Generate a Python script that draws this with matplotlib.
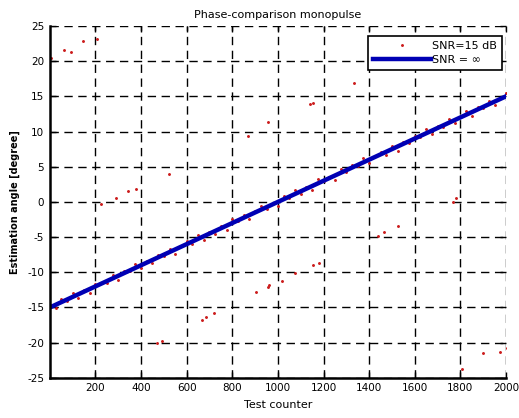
import numpy as np
from matplotlib import pyplot as plt

plt.rcParams['font.family'] = ['DejaVu Sans']
plt.rcParams['axes.unicode_minus'] = False

# ideal estimate (SNR = inf)
ideal_x = [0, 2000]
ideal_y = [-15, 15]

# noisy estimate around the ideal line, every 25 tests (deviation in degrees)
near_x = list(range(0, 2001, 25))
near_dev = [0.3, -0.4, 0.5, -0.2, 0.6, -0.5, 0.2, -0.6, 0.4, 0.1,
            -0.3, 0.5, -0.6, 0.3, -0.1, 0.6, -0.4, 0.2, -0.5, 0.4,
            -0.2, 0.5, -0.6, 0.1, 0.4, -0.3, 0.6, -0.5, 0.2, -0.4,
            0.3, -0.6, 0.5, -0.1, 0.4, -0.5, 0.2, 0.6, -0.3, 0.1,
            -0.6, 0.4, -0.2, 0.5, -0.4, 0.3, -0.5, 0.6, -0.1, 0.2,
            -0.6, 0.5, -0.3, 0.4, -0.2, 0.6, -0.5, 0.1, 0.3, -0.4,
            0.5, -0.6, 0.2, -0.3, 0.4, -0.1, 0.6, -0.5, 0.3, -0.2,
            0.5, -0.4, 0.1, 0.6, -0.6, 0.3, -0.2, 0.4, -0.5, 0.2, 0.5]

# wrapped (ambiguous) estimates
out_x = [4, 61, 92, 146, 207, 224, 292, 343, 377, 522,
         867, 955, 1140, 1154, 1333, 468, 490, 665, 683, 719,
         904, 958, 962, 1019, 1075, 1155, 1181, 1440, 1465, 1528,
         1769, 1780, 1806, 1901, 1974, 2003]
out_y = [20.5, 21.6, 21.3, 22.9, 23.2, -0.3, 0.5, 1.5, 1.85, 3.9,
         9.3, 11.4, 13.9, 14.0, 16.9, -20.0, -19.7, -16.8, -16.3, -15.8,
         -12.8, -12.1, -11.8, -11.2, -10.1, -9.0, -8.7, -4.8, -4.3, -3.4,
         0.05, 0.6, -23.8, -21.5, -21.3, -20.7]

near_y = np.interp(near_x, ideal_x, ideal_y) + np.array(near_dev)
snr_x = np.concatenate([near_x, out_x])
snr_y = np.concatenate([near_y, out_y])

fig = plt.figure(figsize=(5.19, 4.18), dpi=100)
ax = fig.add_axes([0.096, 0.096, 0.879, 0.842])

ax.plot(snr_x, snr_y, '.', color='#cc1c1c', markersize=2.2, label='SNR=15 dB')
ax.plot(ideal_x, ideal_y, color='#0000b4', linewidth=3.2, label='SNR = ∞')

ax.set_xlim(0, 2000)
ax.set_ylim(-25, 25)
ax.set_xticks(range(200, 2001, 200))
ax.set_yticks(range(-25, 26, 5))
ax.tick_params(direction='in', top=True, right=True, labelsize=7.5, length=4, width=1, pad=4)
ax.grid(True, color='k', linestyle=(0, (6, 4)), linewidth=1)
for s in ['top', 'right']:
    ax.spines[s].set_visible(False)
for s in ['left', 'bottom']:
    ax.spines[s].set_linewidth(1.8)

ax.set_title('Phase-comparison monopulse', fontsize=8, pad=6)
ax.set_xlabel('Test counter', fontsize=8, labelpad=5)
ax.set_ylabel('Estimation angle [degree]', fontsize=7, fontweight='bold', labelpad=5)

leg = ax.legend(loc='upper right', bbox_to_anchor=(0.991, 0.972), borderaxespad=0,
                fontsize=8, fancybox=False, framealpha=1, edgecolor='k',
                handlelength=5.2, borderpad=0.45, labelspacing=0.35, handletextpad=0.1)
leg.get_frame().set_linewidth(1.2)

fig.savefig('out.png', dpi=100)
